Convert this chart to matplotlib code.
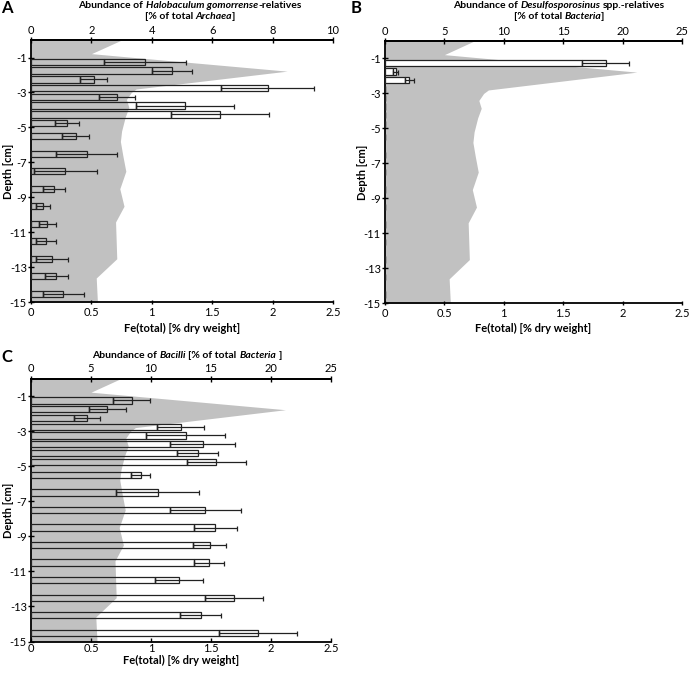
import matplotlib
matplotlib.use("Agg")
import matplotlib.pyplot as plt

plt.rcParams['font.family'] = ['Lato', 'DejaVu Sans']
plt.rcParams['axes.unicode_minus'] = False

# ---------------- data ----------------
depth_rows = [-1.25, -1.75, -2.25, -2.75, -3.25, -3.75, -4.25, -4.75, -5.5,
              -6.5, -7.5, -8.5, -9.5, -10.5, -11.5, -12.5, -13.5, -14.5]

fe_depth = [0, -0.78, -1.78, -2.8, -3.0, -3.4, -3.85, -4.4, -5.2, -5.8, -6.6,
            -7.5, -8.5, -9.5, -10.4, -12.5, -13.6, -15]
fe_total = [0.75, 0.5, 2.12, 0.87, 0.83, 0.79, 0.81, 0.78, 0.75, 0.74, 0.76,
            0.785, 0.735, 0.77, 0.70, 0.71, 0.54, 0.55]

halo_val = [3.78, 4.67, 2.07, 7.84, 2.84, 5.09, 6.25, 1.20, 1.48, 1.84, 1.14,
            0.77, 0.40, 0.54, 0.49, 0.71, 0.84, 1.07]
halo_err = [1.36, 0.65, 0.45, 1.54, 0.60, 1.62, 1.62, 0.40, 0.45, 1.02, 1.04,
            0.37, 0.24, 0.28, 0.33, 0.53, 0.37, 0.67]

desulf_val = [18.6, 0.92, 2.03] + [0.0] * 15
desulf_err = [1.98, 0.21, 0.38] + [0.0] * 15

bac_val = [8.39, 6.36, 4.64, 12.47, 12.89, 14.31, 13.89, 15.42, 9.14, 10.56,
           14.53, 15.36, 14.89, 14.83, 12.36, 16.94, 14.14, 18.92]
bac_err = [1.53, 1.55, 1.08, 1.97, 3.31, 2.70, 1.70, 2.46, 0.80, 3.48,
           2.93, 1.77, 1.39, 1.26, 2.00, 2.42, 1.71, 3.28]

y_ticks = [-1, -3, -5, -7, -9, -11, -13, -15]
fe_ticks = [0, 0.5, 1, 1.5, 2, 2.5]
fe_ticklabels = ["0", "0.5", "1", "1.5", "2", "2.5"]

GREY = '#c1c1c1'
FS = 8
TFS = 7.5

fig = plt.figure(figsize=(6.91, 6.73), dpi=100)
W, H = 691.0, 673.0
renderer = fig.canvas.get_renderer()


def _props(ital, size):
    return dict(fontsize=size, fontweight='bold', fontstyle='italic' if ital else 'normal')


def _width(txt, ital, size):
    t = fig.text(0, 0, txt, **_props(ital, size))
    w = t.get_window_extent(renderer).width
    t.remove()
    return w


def rich_line(x, y, parts, size=TFS):
    items = []
    total = 0.0
    for txt, ital in parts:
        core = txt.strip()
        lead = len(txt) - len(txt.lstrip())
        trail = len(txt) - len(txt.rstrip())
        sp = _width("a a", ital, size) - _width("aa", ital, size)
        wc = _width(core, ital, size)
        items.append((core, ital, lead * sp, wc, trail * sp))
        total += lead * sp + wc + trail * sp
    cur = x - total / 2.0
    for core, ital, l, wc, tr in items:
        cur += l
        fig.text(cur / W, 1 - y / H, core, ha='left', va='center', **_props(ital, size))
        cur += wc + tr


def panel(px_left, px_top, px_right, px_bottom, vals, errs, top_max, top_ticks,
          barface, xlab_off, bpad, bdir):
    h = px_bottom - px_top
    ax = fig.add_axes([px_left / W, 1 - px_bottom / H, (px_right - px_left) / W, h / H])
    ax.fill_betweenx(fe_depth, 0, fe_total, color=GREY, lw=0, zorder=1)
    ax.set_xlim(0, 2.5)
    ax.set_ylim(-15, 0)
    ax.set_xticks(fe_ticks)
    ax.set_xticklabels(fe_ticklabels)
    ax.set_yticks(y_ticks)
    ax.set_yticklabels([str(t) for t in y_ticks])
    ax.spines['right'].set_visible(False)
    for s in ['left', 'bottom', 'top']:
        ax.spines[s].set_linewidth(1.3)
    ax.tick_params(axis='y', labelsize=FS, direction='inout', length=4, width=1, pad=1)
    ax.tick_params(axis='x', labelsize=FS, direction=bdir, length=3, width=1, pad=bpad)
    ax.set_xlabel('Fe(total) [% dry weight]', fontsize=FS, fontweight='bold')
    ax.xaxis.set_label_coords(0.5, -xlab_off / h)
    ax.set_ylabel('Depth [cm]', fontsize=FS, fontweight='bold')
    ax.yaxis.set_label_coords(-17.0 / (px_right - px_left), 0.5)

    tw = ax.twiny()
    tw.set_xlim(0, top_max)
    tw.set_xticks(top_ticks)
    tw.set_xticklabels([str(t) for t in top_ticks])
    tw.tick_params(axis='x', labelsize=FS, direction='inout', length=4, width=1, pad=1)
    for s in ['left', 'bottom', 'right']:
        tw.spines[s].set_visible(False)
    tw.spines['top'].set_linewidth(1.3)
    tw.set_ylim(-15, 0)
    lows = [v - e for v, e in zip(vals, errs)]
    tw.barh(depth_rows, lows, height=0.36, facecolor=barface, edgecolor='#222222',
            linewidth=0.9, zorder=3)
    tw.barh(depth_rows, errs, left=lows, height=0.36, facecolor=barface,
            edgecolor='#222222', linewidth=0.9, zorder=3)
    nz = [i for i, e in enumerate(errs) if e > 0]
    tw.errorbar([vals[i] for i in nz], [depth_rows[i] for i in nz],
                xerr=[errs[i] for i in nz], fmt='none', ecolor='#222222',
                elinewidth=0.9, capsize=1.8, capthick=0.9, zorder=4)
    return ax, tw


# Panel A
panel(31, 40, 333, 302.5, halo_val, halo_err, 10, [0, 2, 4, 6, 8, 10], 'none', 20, 2, 'inout')
rich_line(190, 6, [("Abundance of ", False), ("Halobaculum gomorrense", True),
                   ("-relatives", False)])
rich_line(190, 16.5, [("[% of total ", False), ("Archaea", True), ("]", False)])
fig.text(1 / W, 1 - 8 / H, 'A', fontsize=12, fontweight='bold', va='center', ha='left')

# Panel B
panel(385, 41, 682, 303.3, desulf_val, desulf_err, 25, [0, 5, 10, 15, 20, 25], 'white',
      20, 2, 'inout')
rich_line(559, 6, [("Abundance of ", False), ("Desulfosporosinus", True),
                   (" spp.-relatives", False)])
rich_line(559, 16.5, [("[% of total ", False), ("Bacteria", True), ("]", False)])
fig.text(351 / W, 1 - 8 / H, 'B', fontsize=12, fontweight='bold', va='center', ha='left')

# Panel C
panel(31, 378.5, 331, 641.5, bac_val, bac_err, 25, [0, 5, 10, 15, 20, 25], 'none',
      13, 0.8, 'in')
rich_line(187, 355, [("Abundance of ", False), ("Bacilli", True),
                     (" [% of total ", False), ("Bacteria", True), (" ]", False)])
fig.text(1 / W, 1 - 357 / H, 'C', fontsize=12, fontweight='bold', va='center', ha='left')

fig.savefig('out.png', dpi=100)
